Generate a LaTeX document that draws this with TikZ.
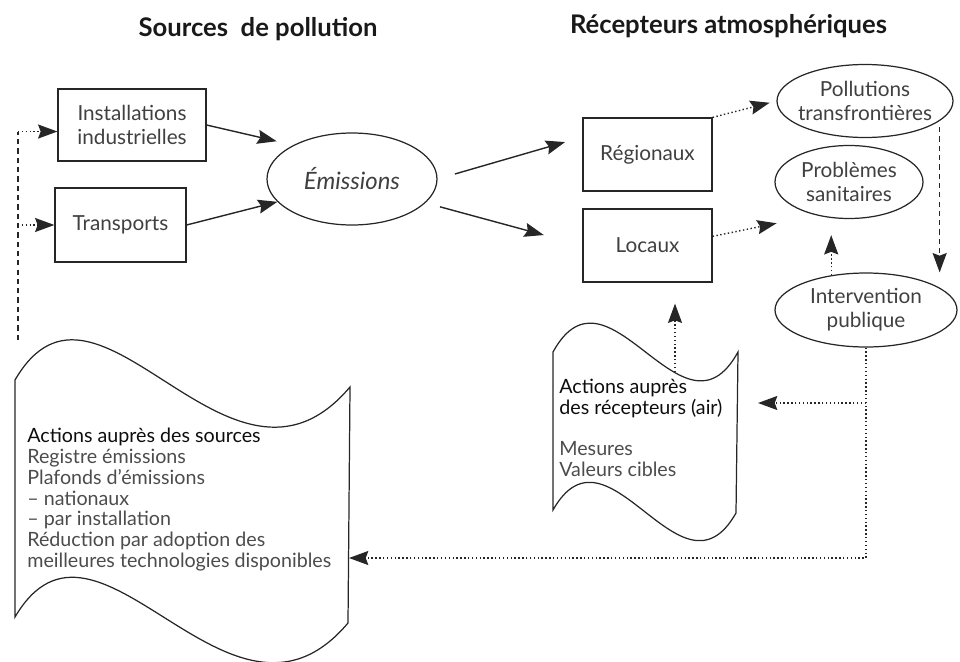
\documentclass[tikz,border=0pt]{standalone}
\usepackage{fontspec}
\setmainfont{Lato}
\usepackage{tikz}
\usepackage{xcolor}
\usetikzlibrary{positioning,arrows.meta,shapes.geometric}

\tikzset{
  boite/.style={rectangle, draw=black!85, line width=0.7pt, text=black!75, align=center,
                font=\fontsize{11.8}{13.5}\selectfont},
  bulle/.style={ellipse, draw=black!85, line width=0.7pt, text=black!75, align=center,
                inner xsep=-25pt, inner ysep=-8pt, font=\fontsize{11.8}{13.5}\selectfont},
  fleche/.style={-{Stealth[length=11pt, width=8pt, inset=1.5pt]}, draw=black!85, line width=0.8pt},
  pointille/.style={dash pattern=on 0.8pt off 1.4pt},
  tirets/.style={dash pattern=on 3pt off 2.3pt},
  titre/.style={anchor=base, text=black!90, font=\fontsize{14.6}{16}\selectfont\bfseries},
  liste/.style={anchor=north west, inner sep=0pt, align=left, text=black!70,
                font=\fontsize{11.2}{11.8}\selectfont},
  page/.style={draw=black!85, line width=0.7pt}
}

\begin{document}
\begin{tikzpicture}[scale=1.0]
      %\draw [dotted] (0,-13.22) grid (19.2,0);
      \useasboundingbox (0,0) rectangle (19.2,-13.22);
      % titres
      \node [titre]                                                 (tsrc) at ( 5.16, -0.72) {Sources\ \ de pollution};
      \node [titre]                                                 (trec) at (14.57, -0.66) {Récepteurs atmosphériques};
      % sources
      \node [boite, minimum width=2.96cm, minimum height=1.44cm]    (inst) at ( 2.64, -2.50) {Installations\\industrielles};
      \node [boite, minimum width=2.62cm, minimum height=1.48cm]   (trans) at ( 2.41, -4.50) {Transports};
      \node [bulle, minimum width=3.40cm, minimum height=1.84cm,
             font=\fontsize{13.6}{15}\selectfont\itshape]           (emis) at ( 7.04, -3.58) {Émissions};
      % recepteurs
      \node [boite, minimum width=2.58cm, minimum height=1.46cm]   (regio) at (12.95, -3.09) {Régionaux};
      \node [boite, minimum width=2.58cm, minimum height=1.46cm]  (locaux) at (12.95, -4.91) {Locaux};
      \node [bulle, minimum width=3.52cm, minimum height=1.46cm]   (pollu) at (17.30, -2.02) {Pollutions\\transfrontières};
      \node [bulle, minimum width=2.96cm, minimum height=1.46cm]   (sante) at (16.98, -3.64) {Problèmes\\sanitaires};
      \node [bulle, minimum width=3.64cm, minimum height=1.48cm]  (interv) at (17.32, -6.20) {Intervention\\publique};
      % actions
      \draw [page] (0.30,-7.60) .. controls (1.95,-4.76) and (4.60,-10.58) .. (7.00,-7.74)
                -- (6.96,-12.46) .. controls (4.60,-15.26) and (1.95,-9.54) .. (0.30,-12.34) -- cycle;
      \draw [page] (11.06,-7.04) .. controls (12.16,-5.04) and (13.66,-9.04) .. (14.76,-7.04)
                -- (14.72,-10.26) .. controls (13.62,-12.20) and (12.16,-8.26) .. (11.06,-10.20) -- cycle;
      \node [liste]  (actsrc) at ( 0.54, -8.56) {\textcolor{black!95}{Actions auprès des sources}\\Registre émissions\\Plafonds d’émissions\\– nationaux\\– par installation\\Réduction par adoption des\\meilleures technologies disponibles};
      \node [liste]  (actair) at (11.18, -7.58) {\textcolor{black!95}{Actions auprès}\\\textcolor{black!95}{des récepteurs (air)}\\[11.8pt]Mesures\\Valeurs cibles};
      \coordinate   (gauche) at ( 0.36, -6.80);
      \coordinate  (srcbord) at ( 6.98,-11.16);
      \coordinate  (airbord) at (14.74, -8.06);
      \coordinate  (airhaut) at (13.50, -7.44);
      % fleches
      \draw [fleche, shorten >=0.34cm] (inst.east) -- (emis.150);
      \draw [fleche] (trans.east) -- (emis.197);
      \draw [fleche, shorten <=0.36cm, shorten >=0.36cm] (emis.east) -- (regio.165);
      \draw [fleche, shorten <=0.30cm, shorten >=0.80cm] (emis.-18) -- (locaux.west);
      \draw [fleche, pointille, shorten >=0.14cm] (regio.north east) -- (pollu.west);
      \draw [fleche, pointille, shorten >=0.80cm] (locaux.8) -- (sante.225);
      \draw [fleche, tirets, shorten <=0.12cm] (pollu.-15) -- (pollu.-15 |- interv.north);
      \draw [fleche, pointille, shorten >=0.32cm] (interv.135) -- (interv.135 |- sante.south);
      \draw [fleche, pointille, shorten >=0.42cm] (airhaut) -- (airhaut |- locaux.south);
      \draw [fleche, pointille] (interv.south) |- (srcbord);
      \draw [fleche, pointille, shorten >=0.42cm] (interv.south |- airbord) -- (airbord);
      \draw [tirets, draw=black!85, line width=0.8pt] (gauche) -- (gauche |- inst.185);
      \draw [fleche, pointille] (gauche |- inst.185) -- (inst.185);
      \draw [fleche, pointille] (gauche |- trans.west) -- (trans.west);
\end{tikzpicture}
\end{document}
